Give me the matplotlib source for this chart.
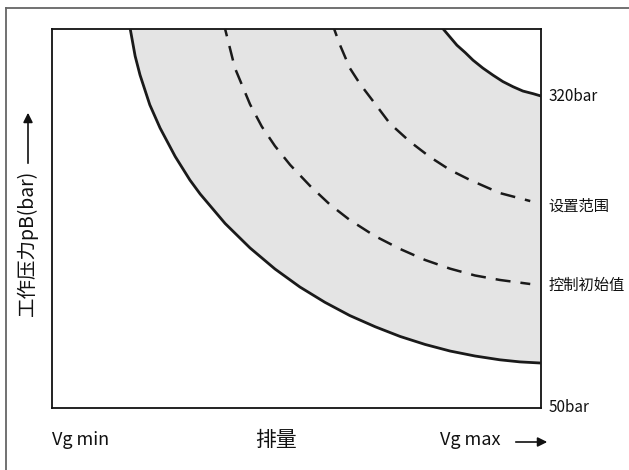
import matplotlib.pyplot as plt
from matplotlib.lines import Line2D
from matplotlib.patches import FancyArrowPatch

plt.rcParams['font.family'] = ['Noto Sans CJK SC', 'DejaVu Sans']

# displacement (0 = Vg min, 1 = Vg max) and working pressure in bar
lower_x = [0.160, 0.170, 0.180, 0.200, 0.221, 0.252, 0.282, 0.303, 0.354, 0.405, 0.456,
           0.507, 0.558, 0.609, 0.661, 0.712, 0.763, 0.814, 0.865, 0.916, 0.957, 1.0]
lower_p = [378, 354.6, 338.2, 312.4, 292.3, 267.6, 247.3, 235.2, 209.7, 188.5, 170.3,
           154.7, 141.5, 130, 120.3, 111.9, 105, 99.3, 95, 91.7, 89.9, 88.9]

upper_x = [0.800, 0.814, 0.828, 0.845, 0.861, 0.881, 0.902, 0.922, 0.943, 0.963, 0.984, 1.0]
upper_p = [378, 371, 364, 357.6, 351, 344.2, 338, 332.5, 328, 324.3, 322, 320]

init_x = [0.354, 0.374, 0.405, 0.429, 0.456, 0.487, 0.528, 0.568, 0.609, 0.660, 0.712,
          0.763, 0.814, 0.865, 0.916, 0.978]
init_p = [378, 344.3, 312.8, 293.6, 276.7, 260.4, 242.1, 226.2, 212.7, 198.9, 187.6,
          178.1, 170.6, 164.7, 160.8, 157.3]

range_x = [0.577, 0.589, 0.609, 0.630, 0.661, 0.691, 0.732, 0.773, 0.814, 0.855, 0.916, 0.978]
range_p = [378, 364.1, 344.2, 330.4, 313.1, 296.2, 280.5, 267.2, 256, 247.3, 236, 229.1]

p_min, p_top = 50, 378
right_labels = ['320bar', '设置范围', '控制初始值', '50bar']
right_label_p = [320, 225, 156, 50]

fig = plt.figure(figsize=(6.29, 4.70), dpi=100)
ax = fig.add_axes([52 / 629, 62 / 470, 489 / 629, 379 / 470])
ax.set_xlim(0, 1)
ax.set_ylim(p_min, p_top)
ax.set_xticks([])
ax.set_yticks([])
for s in ax.spines.values():
    s.set_linewidth(1.3)
    s.set_color('#111111')

# shaded setting range
fx = lower_x + upper_x[::-1]
fy = lower_p + upper_p[::-1]
ax.fill(fx, fy, color='#e4e4e4', lw=0, zorder=1)

line_kw = dict(color='#1a1a1a', zorder=3, solid_joinstyle='round', dash_joinstyle='round')
ax.plot(lower_x, lower_p, lw=2.0, **line_kw)
ax.plot(upper_x, upper_p, lw=2.0, **line_kw)
ax.plot(init_x, init_p, lw=1.8, ls=(3, (6, 4)), **line_kw)
ax.plot(range_x, range_p, lw=1.8, ls=(3, (6, 4)), **line_kw)

for lab, p in zip(right_labels, right_label_p):
    ax.text(1.015, p, lab, transform=ax.get_yaxis_transform(), ha='left', va='center',
            fontsize=11, color='#111111', clip_on=False)

# axis captions
fig.text(52 / 629, 1 - 440 / 470, 'Vg min', ha='left', va='center', fontsize=13, color='#111111')
fig.text(276 / 629, 1 - 440 / 470, '排量', ha='center', va='center', fontsize=15, color='#111111')
fig.text(440 / 629, 1 - 440 / 470, 'Vg max', ha='left', va='center', fontsize=13, color='#111111')
fig.text(27 / 629, 1 - 243 / 470, '工作压力pB(bar)', rotation=90, ha='center', va='center',
         fontsize=14, color='#111111')

arrow = dict(arrowstyle='-|>', color='#111111', lw=1.2, mutation_scale=14)
fig.add_artist(FancyArrowPatch((513 / 629, 1 - 442 / 470), (550 / 629, 1 - 442 / 470),
                               transform=fig.transFigure, **arrow))
fig.add_artist(FancyArrowPatch((28 / 629, 1 - 166 / 470), (28 / 629, 1 - 110 / 470),
                               transform=fig.transFigure, **arrow))

# outer frame (top and left edges only)
fig.add_artist(Line2D([6.5 / 629, 6.5 / 629], [0, 1 - 7.5 / 470], transform=fig.transFigure,
                      color='#666666', lw=1.3))
fig.add_artist(Line2D([6.5 / 629, 1], [1 - 7.5 / 470, 1 - 7.5 / 470], transform=fig.transFigure,
                      color='#666666', lw=1.3))

fig.savefig('out.png', dpi=100)
